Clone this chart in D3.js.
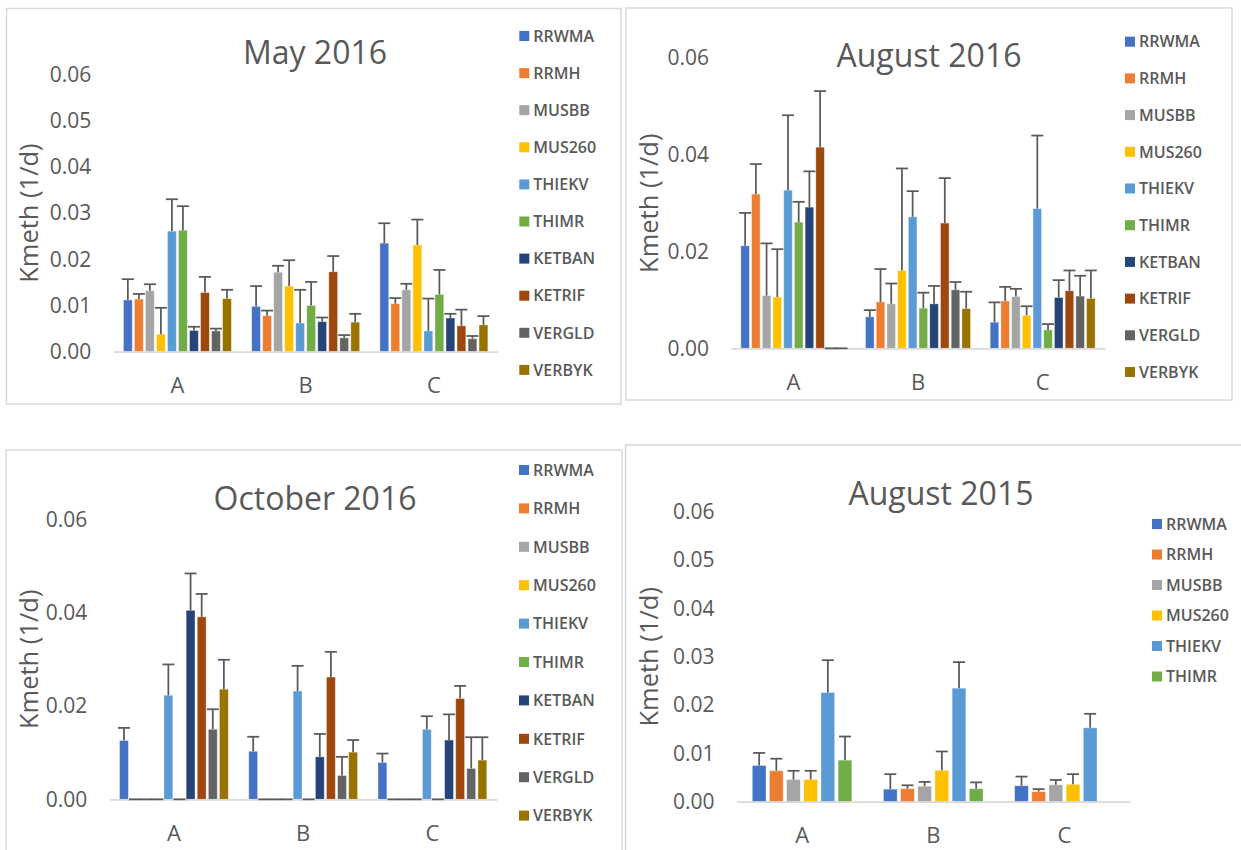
<!DOCTYPE html>
<html>
<head>
<meta charset="utf-8">
<script src="https://cdn.jsdelivr.net/npm/d3@7"></script>
<style>
  html, body { margin: 0; padding: 0; background: #ffffff; }
  svg { display: block; }
  text { font-family: "Open Sans", "Noto Sans", sans-serif; fill: #595959; }
</style>
</head>
<body>
<svg id="chart" width="1241" height="850"></svg>
<script>
// ---- data -------------------------------------------------------------
const categories = ["A", "B", "C"];
const seriesNames = ["RRWMA", "RRMH", "MUSBB", "MUS260", "THIEKV",
                     "THIMR", "KETBAN", "KETRIF", "VERGLD", "VERBYK"];
const seriesColors = ["#4472C4", "#ED7D31", "#A5A5A5", "#FFC000", "#5B9BD5",
                      "#70AD47", "#264478", "#9E480E", "#636363", "#997300"];

// Kmeth means (1/d), one row per site A, B, C, one entry per series
const may2016Mean = [
  [0.0112, 0.0114, 0.0132, 0.0038, 0.0261, 0.0263, 0.0046, 0.0128, 0.0045, 0.0115],
  [0.0098, 0.0078, 0.0172, 0.0142, 0.0062, 0.0100, 0.0065, 0.0173, 0.0030, 0.0064],
  [0.0235, 0.0104, 0.0134, 0.0231, 0.0045, 0.0124, 0.0073, 0.0056, 0.0028, 0.0058]
];
// upper error bar lengths
const may2016Err = [
  [0.0045, 0.0011, 0.0014, 0.0057, 0.0069, 0.0052, 0.0008, 0.0034, 0.0005, 0.0019],
  [0.0044, 0.0011, 0.0014, 0.0056, 0.0072, 0.0051, 0.0009, 0.0034, 0.0006, 0.0018],
  [0.0043, 0.0012, 0.0013, 0.0055, 0.0070, 0.0053, 0.0009, 0.0035, 0.0006, 0.0019]
];

const aug2016Mean = [
  [0.0212, 0.0319, 0.0109, 0.0106, 0.0327, 0.0261, 0.0292, 0.0416, 0, 0],
  [0.0065, 0.0096, 0.0092, 0.0161, 0.0272, 0.0083, 0.0092, 0.0259, 0.0121, 0.0082],
  [0.0054, 0.0098, 0.0107, 0.0068, 0.0289, 0.0038, 0.0105, 0.0119, 0.0108, 0.0103]
];
const aug2016Err = [
  [0.0068, 0.0062, 0.0108, 0.0099, 0.0155, 0.0042, 0.0074, 0.0116, 0, 0],
  [0.0014, 0.0068, 0.0042, 0.0211, 0.0053, 0.0032, 0.0037, 0.0093, 0.0016, 0.0035],
  [0.0041, 0.0029, 0.0016, 0.0019, 0.0151, 0.0012, 0.0036, 0.0042, 0.0042, 0.0058]
];

const oct2016Mean = [
  [0.0126, 0, 0, 0, 0.0223, 0, 0.0405, 0.0391, 0.0150, 0.0236],
  [0.0103, 0, 0, 0, 0.0232, 0, 0.0091, 0.0262, 0.0051, 0.0101],
  [0.0079, 0, 0, 0, 0.0150, 0, 0.0127, 0.0216, 0.0066, 0.0084]
];
const oct2016Err = [
  [0.0027, 0, 0, 0, 0.0066, 0, 0.0079, 0.0049, 0.0043, 0.0063],
  [0.0031, 0, 0, 0, 0.0054, 0, 0.0049, 0.0054, 0.0040, 0.0026],
  [0.0019, 0, 0, 0, 0.0028, 0, 0.0055, 0.0027, 0.0067, 0.0049]
];

const aug2015Mean = [
  [0.0075, 0.0064, 0.0046, 0.0046, 0.0226, 0.0086],
  [0.0026, 0.0027, 0.0032, 0.0065, 0.0235, 0.0027],
  [0.0033, 0.0021, 0.0035, 0.0036, 0.0153, null]
];
const aug2015Err = [
  [0.0026, 0.0025, 0.0018, 0.0018, 0.0067, 0.0049],
  [0.0031, 0.0007, 0.0009, 0.0039, 0.0054, 0.0013],
  [0.0019, 0.0005, 0.0010, 0.0021, 0.0029, null]
];

const yTicksFine = [0, 0.01, 0.02, 0.03, 0.04, 0.05, 0.06];
const yTicksCoarse = [0, 0.02, 0.04, 0.06];
const yMax = 0.06;
const axisTitle = "Kmeth (1/d)";

// ---- layout of the four chart boxes ------------------------------------
const panels = [
  { title: "May 2016", mean: may2016Mean, err: may2016Err, nSeries: 10, ticks: yTicksFine,
    frame: [6.5, 8.5, 614.5, 395.5], plot: [113.3, 498, 74.5, 351.7],
    titleX: 315, titleY: 64, axisTitleX: 29,
    legendX: 519.3, legendY: 36, legendStep: 37.1 },
  { title: "August 2016", mean: aug2016Mean, err: aug2016Err, nSeries: 10, ticks: yTicksCoarse,
    frame: [626, 8, 606, 392], plot: [731, 1105, 58.2, 348.3],
    titleX: 929, titleY: 67, axisTitleX: 649,
    legendX: 1125, legendY: 41.7, legendStep: 36.7 },
  { title: "October 2016", mean: oct2016Mean, err: oct2016Err, nSeries: 10, ticks: yTicksCoarse,
    frame: [6, 450, 616, 410], plot: [109.3, 497, 519.3, 799.3],
    titleX: 315, titleY: 510, axisTitleX: 29,
    legendX: 519, legendY: 470, legendStep: 38.4 },
  { title: "August 2015", mean: aug2015Mean, err: aug2015Err, nSeries: 6, ticks: yTicksFine,
    frame: [625.5, 445, 630, 420], plot: [736.5, 1130, 511.9, 801.7],
    titleX: 941, titleY: 505, axisTitleX: 649,
    legendX: 1152, legendY: 524, legendStep: 30.5 }
];

const svg = d3.select("#chart");
const capWidth = 12;

panels.forEach(p => {
  const g = svg.append("g");
  const [fx, fy, fw, fh] = p.frame;
  g.append("rect")
    .attr("x", fx).attr("y", fy).attr("width", fw).attr("height", fh)
    .attr("fill", "#fff").attr("stroke", "#d9d9d9").attr("stroke-width", 1.5);

  const [left, right, top, bottom] = p.plot;
  const names = seriesNames.slice(0, p.nSeries);

  const x0 = d3.scaleBand().domain(categories).range([left, right]).padding(0);
  const x1 = d3.scaleBand().domain(names).range([0, x0.bandwidth()])
    .paddingInner(0.2).paddingOuter(0.92);
  const y = d3.scaleLinear().domain([0, yMax]).range([bottom, top]);

  // value axis labels
  const yAxis = g.append("g")
    .attr("transform", `translate(${left},0)`)
    .call(d3.axisLeft(y).tickValues(p.ticks).tickFormat(d3.format(".2f"))
      .tickSize(0).tickPadding(22));
  yAxis.select(".domain").remove();
  yAxis.selectAll("text")
    .style("font-family", "'Open Sans', sans-serif")
    .style("font-size", "21px").attr("fill", "#595959");

  // bars
  const rows = [];
  categories.forEach((c, ci) => {
    names.forEach((s, si) => {
      rows.push({ cat: c, series: s, color: seriesColors[si],
                  v: p.mean[ci][si], e: p.err[ci][si] });
    });
  });
  const present = rows.filter(d => d.v !== null);

  g.append("g").selectAll("rect")
    .data(present.filter(d => d.v > 0))
    .join("rect")
    .attr("x", d => x0(d.cat) + x1(d.series))
    .attr("y", d => y(d.v))
    .attr("width", x1.bandwidth())
    .attr("height", d => y(0) - y(d.v))
    .attr("fill", d => d.color)
    .attr("stroke", "#ffffff").attr("stroke-opacity", 0.45).attr("stroke-width", 0.8);

  // category axis (baseline)
  const xAxis = g.append("g")
    .attr("transform", `translate(0,${bottom})`)
    .call(d3.axisBottom(x0).tickSize(0).tickSizeOuter(0).tickPadding(26));
  xAxis.select(".domain").attr("stroke", "#d9d9d9").attr("stroke-width", 1.8);
  xAxis.selectAll("text")
    .style("font-family", "'Open Sans', sans-serif")
    .style("font-size", "22px").attr("fill", "#595959");

  // upper error bars
  const eb = g.append("g").attr("stroke", "#595959").attr("stroke-width", 1.75);
  present.forEach(d => {
    const cx = x0(d.cat) + x1(d.series) + x1.bandwidth() / 2;
    const y1 = y(d.v), y2 = y(d.v + d.e);
    eb.append("line").attr("x1", cx).attr("x2", cx).attr("y1", y1).attr("y2", y2);
    eb.append("line").attr("x1", cx - capWidth / 2).attr("x2", cx + capWidth / 2)
      .attr("y1", y2).attr("y2", y2);
  });

  // title
  g.append("text")
    .attr("x", p.titleX).attr("y", p.titleY)
    .attr("text-anchor", "middle")
    .style("font-size", "32px")
    .text(p.title);

  // axis title
  g.append("text")
    .attr("transform", `translate(${p.axisTitleX},${(top + bottom) / 2}) rotate(-90)`)
    .attr("text-anchor", "middle")
    .attr("dy", "0.35em")
    .style("font-size", "25.5px")
    .text(axisTitle);

  // legend
  const lg = g.append("g");
  names.forEach((s, i) => {
    const cy = p.legendY + i * p.legendStep;
    lg.append("rect")
      .attr("x", p.legendX).attr("y", cy - 5)
      .attr("width", 10).attr("height", 10)
      .attr("fill", seriesColors[i]);
    lg.append("text")
      .attr("x", p.legendX + 14).attr("y", cy)
      .attr("dy", "0.36em")
      .style("font-size", "16px").style("font-weight", 600)
      .text(s);
  });
});
</script>
</body>
</html>
